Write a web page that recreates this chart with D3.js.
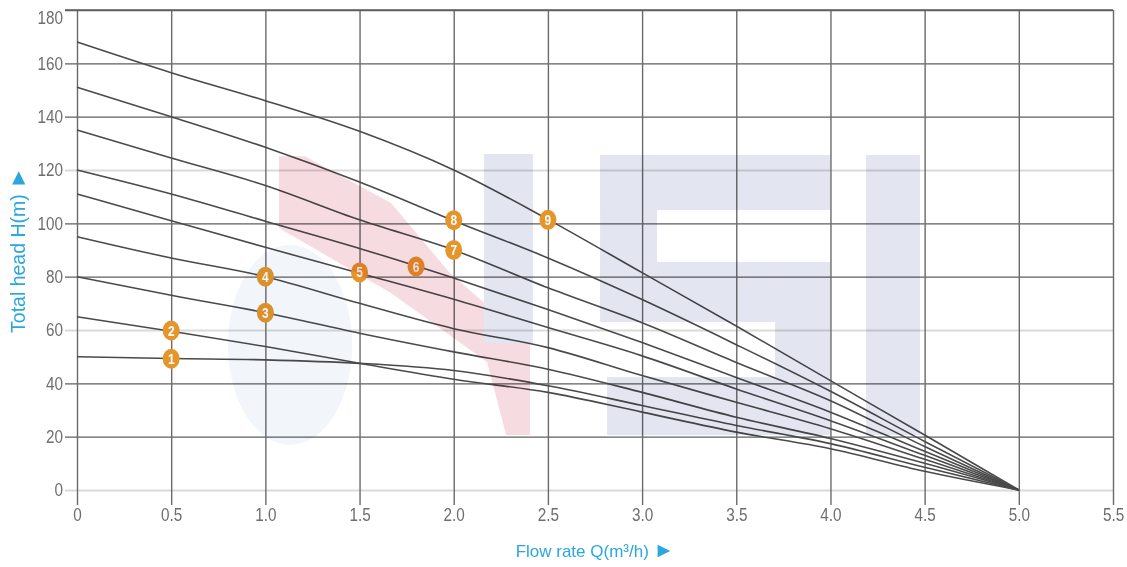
<!DOCTYPE html>
<html>
<head>
<meta charset="utf-8">
<script src="https://cdn.jsdelivr.net/npm/d3@7"></script>
<style>
  html, body { margin: 0; padding: 0; background: #ffffff; }
  svg { display: block; }
  .tick text { font-family: 'Liberation Sans', Arial, sans-serif; font-size: 18px; fill: #6e6e6e; }
  .title { font-family: 'Liberation Sans', Arial, sans-serif; fill: #2aa7df; }
</style>
</head>
<body>
<svg id="chart" width="1127" height="567"></svg>
<script>
// ---------------- data ----------------
const flowQ = [0, 0.5, 1.0, 1.5, 2.0, 2.5, 3.0, 3.5, 4.0, 4.5, 5.0];
const head1 = [50, 49.3, 48.8, 47.5, 44.8, 39.1, 31.7, 24.2, 17.4, 8.5, 0];
const head2 = [65, 59.5, 53.8, 47.5, 41.5, 36.6, 29.2, 21.7, 15.5, 7.0, 0];
const head3 = [80, 73.0, 66.5, 58.8, 51.8, 45.3, 36.6, 27.3, 19.3, 10.0, 0];
const head4 = [95, 87.0, 80.0, 70.0, 60.5, 53.4, 42.9, 32.9, 23.0, 11.5, 0];
const head5 = [111, 101.0, 91.0, 81.3, 71.5, 60.9, 50.3, 37.9, 26.0, 13.0, 0];
const head6 = [120, 111.0, 100.8, 90.6, 79.5, 67.7, 55.3, 42.2, 29.2, 14.5, 0];
const head7 = [135, 124.5, 114.2, 101.3, 90.0, 75.8, 62.7, 47.8, 33.5, 16.3, 0];
const head8 = [151, 140.0, 128.5, 115.5, 101.0, 87.0, 71.4, 54.5, 37.0, 18.2, 0];
const head9 = [168, 156.5, 146.0, 134.5, 120.0, 101.5, 81.5, 61.5, 41.0, 20.6, 0];
const curveHeads = [head1, head2, head3, head4, head5, head6, head7, head8, head9];

const markerLabels = ["1", "2", "3", "4", "5", "6", "7", "8", "9"];
const markerQ = [0.5, 0.5, 1.0, 1.0, 1.5, 1.8, 2.0, 2.0, 2.5];
const markerH = [49.2, 59.8, 66.5, 80.0, 81.6, 83.8, 90.0, 101.2, 101.3];

const xTickValues = [0, 0.5, 1.0, 1.5, 2.0, 2.5, 3.0, 3.5, 4.0, 4.5, 5.0, 5.5];
const xTickLabels = ["0", "0.5", "1.0", "1.5", "2.0", "2.5", "3.0", "3.5", "4.0", "4.5", "5.0", "5.5"];
const yTickValues = [0, 20, 40, 60, 80, 100, 120, 140, 160, 180];
const lightGridValues = [0, 60, 120];

const xTitle = "Flow rate Q(m\u00B3/h) ";
const yTitle = "Total head H(m) ";
const arrowGlyph = "\u25BA";

// ---------------- layout ----------------
const svg = d3.select("#chart");
const mLeft = 77, mRight = 1113, mTop = 10, mBottom = 490;
const x = d3.scaleLinear().domain([0, 5.5]).range([mLeft, mRight]);
const y = d3.scaleLinear().domain([0, 180]).range([mBottom, mTop]);
const narrow = 0.85;

// ---------------- watermark (drawn later, multiply) ----------------
function drawWatermark(g) {
  const rect = (q0, q1, h0, h1, fill) =>
    g.append("rect")
      .attr("x", x(q0)).attr("y", y(h0))
      .attr("width", x(q1) - x(q0)).attr("height", y(h1) - y(h0))
      .attr("fill", fill);
  // faint blue drop
  g.append("ellipse")
    .attr("cx", x(1.131)).attr("cy", y(54.4))
    .attr("rx", x(1.131 + 0.33) - x(1.131)).attr("ry", y(54.4 - 37.5) - y(54.4))
    .attr("fill", "#f2f6fb");
  // pink band
  const pink = [[1.072,125.2],[1.210,125.2],[1.667,107.6],[1.975,81.75],[2.405,55.1],[2.405,20.6],
                [2.278,20.6],[2.177,48],[1.667,73.9],[1.072,98.25]];
  g.append("path")
    .attr("d", d3.line().x(d => x(d[0])).y(d => y(d[1]))(pink) + "Z")
    .attr("fill", "#f6dbe0");
  const blue = "#e3e5f0";
  rect(2.16, 2.42, 126, 55, blue);
  // "S"
  rect(2.777, 3.998, 125.6, 105, blue);
  rect(2.777, 3.079, 125.6, 71.25, blue);
  rect(2.777, 3.998, 85.5, 63, blue);
  rect(3.706, 3.998, 85.5, 20.6, blue);
  rect(2.814, 3.998, 42.4, 20.6, blue);
  // "I"
  rect(4.189, 4.475, 125.6, 20.6, blue);
}

// ---------------- grid via axes ----------------
const yTickLen = (mRight - mLeft) + 12;
const yAxis = d3.axisLeft(y).tickValues(yTickValues)
  .tickSize(yTickLen).tickPadding(2);
const gy = svg.append("g").attr("transform", `translate(${mRight},0)`).call(yAxis);
gy.select(".domain").remove();
gy.selectAll(".tick line")
  .attr("stroke", d => lightGridValues.includes(d) ? "#dadada" : "#5f5f5f")
  .attr("stroke-width", d => lightGridValues.includes(d) ? 2.2 : 1.4);
gy.selectAll(".tick text")
  .attr("x", 0)
  .attr("transform", `translate(${-(yTickLen + 2)},0) scale(${narrow},1)`)
  .attr("dy", d => d === 180 ? "0.75em" : "0.32em");

const xAxis = d3.axisBottom(x).tickValues(xTickValues)
  .tickFormat((d, i) => xTickLabels[i])
  .tickSize((mBottom - mTop) + 15).tickPadding(3);
const gx = svg.append("g").attr("transform", `translate(0,${mTop})`).call(xAxis);
gx.select(".domain").remove();
gx.selectAll(".tick line").attr("stroke", "#6a6a6a").attr("stroke-width", 1.4);
gx.selectAll(".tick text").attr("transform", `scale(${narrow},1)`);

// top frame line
svg.append("line")
  .attr("x1", mLeft - 12).attr("x2", mRight)
  .attr("y1", y(180)).attr("y2", y(180))
  .attr("stroke", "#5f5f5f").attr("stroke-width", 1.4);

// ---------------- curves ----------------
const line = d3.line()
  .x((d, i) => x(flowQ[i]))
  .y(d => y(d))
  .curve(d3.curveMonotoneX);
svg.append("g").selectAll("path")
  .data(curveHeads)
  .join("path")
  .attr("d", d => line(d))
  .attr("fill", "none")
  .attr("stroke", "#4a4a4a")
  .attr("stroke-width", 1.6);

// ---------------- markers ----------------
const mg = svg.append("g").selectAll("g")
  .data(markerLabels)
  .join("g")
  .attr("transform", (d, i) => `translate(${x(markerQ[i])},${y(markerH[i])})`);
mg.append("ellipse").attr("rx", 8.5).attr("ry", 10).attr("fill", "#e6952b");
mg.append("text")
  .text(d => d)
  .attr("text-anchor", "middle")
  .attr("dy", "0.36em")
  .attr("fill", "#ffffff")
  .attr("font-family", "'Liberation Sans', sans-serif")
  .attr("font-weight", "bold")
  .attr("font-size", 14)
  .attr("transform", "scale(0.85,1)");

// watermark on top, multiply blend
const wm = svg.append("g").style("mix-blend-mode", "multiply");
drawWatermark(wm);

// ---------------- titles ----------------
const tx = svg.append("text").attr("class", "title")
  .attr("x", 595).attr("y", 557)
  .attr("text-anchor", "middle")
  .style("font-size", "17px");
tx.append("tspan").text(xTitle);
tx.append("tspan").text(arrowGlyph).style("font-size", "21px");

const ty = svg.append("text").attr("class", "title")
  .attr("transform", "translate(25,250) rotate(-90)")
  .attr("text-anchor", "middle")
  .style("font-size", "19.5px");
ty.append("tspan").text(yTitle);
ty.append("tspan").text(arrowGlyph).style("font-size", "22px");
</script>
</body>
</html>
